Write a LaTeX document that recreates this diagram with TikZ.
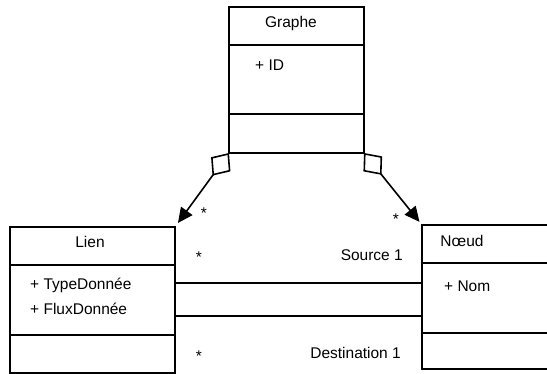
\documentclass[tikz,border=0pt]{standalone}
\usepackage{fontspec}
\setmainfont{Liberation Sans}
\usetikzlibrary{arrows.meta}
\begin{document}
\begin{tikzpicture}[x=1pt,y=-1pt,
  box/.style={draw, line width=1.6pt, minimum width=#1, inner sep=0pt, outer sep=0pt},
  txt/.style={font=\fontsize{15.5}{18}\selectfont, inner sep=0pt, anchor=base},
  agg/.style={line width=1.6pt,
    {Diamond[open,length=28pt,width=24pt]}-{Triangle[length=15pt,width=14pt]}},
  assoc/.style={line width=1.6pt}]
\useasboundingbox (0,0) rectangle (547,374);
\clip (0,0) rectangle (547,374);

% class Graphe
\node[box=135pt, minimum height=38pt] (gname) at (296.5,26) {};
\node[box=135pt, minimum height=69pt] (gattr) at (296.5,79.5) {};
\node[box=135pt, minimum height=39pt] (gops) at (296.5,133.5) {};
\node[txt] (tgraphe) at (291,28) {Graphe};
\node[txt, anchor=base west] (tid) at (255,71) {+ ID};

% class Lien
\node[box=165pt, minimum height=38pt] (lname) at (92.5,246) {};
\node[box=165pt, minimum height=70pt] (lattr) at (92.5,300) {};
\node[box=165pt, minimum height=38pt] (lops) at (92.5,354) {};
\node[txt] (tlien) at (90,248) {Lien};
\node[txt, anchor=base west] (ttype) at (30,290) {+ TypeDonnée};
\node[txt, anchor=base west] (tflux) at (30,315) {+ FluxDonnée};

% class Nœud
\node[box=138pt, minimum height=38pt] (nname) at (491,244) {};
\node[box=138pt, minimum height=70pt] (nattr) at (491,298) {};
\node[box=138pt, minimum height=36pt] (nops) at (491,351) {};
\node[txt] (tnoeud) at (462,247) {Nœud};
\node[txt, anchor=base west] (tnom) at (444,292) {+ Nom};

% aggregations
\draw[agg, shorten >=5pt] (gops.south west) -- (lname.north east);
\draw[agg, shorten >=4pt] (gops.south east) -- (nname.north west);
\node[txt] (m1) at (204,219) {*};
\node[txt] (m2) at (396,225) {*};

% associations Lien -- Nœud
\coordinate (src) at (0,283);
\coordinate (dst) at (0,316);
\draw[assoc] (lattr.east |- src) -- (nattr.west |- src);
\draw[assoc] (lattr.east |- dst) -- (nattr.west |- dst);
\node[txt] (m3) at (199,263) {*};
\node[txt] (m4) at (199,362) {*};
\node[txt, anchor=base east] (tsrc) at (403,261) {Source 1};
\node[txt, anchor=base east] (tdst) at (401,359) {Destination 1};
\end{tikzpicture}
\end{document}
